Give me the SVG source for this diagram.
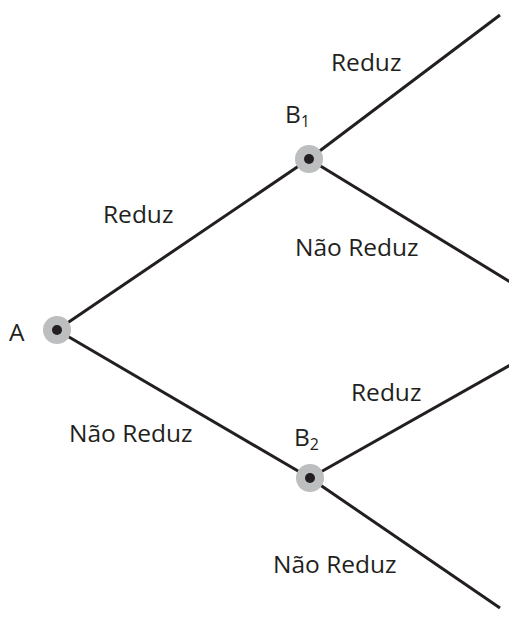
<svg xmlns="http://www.w3.org/2000/svg" width="509" height="624" viewBox="0 0 509 624">
  <style>
    .edge { stroke: #231f20; stroke-width: 3; fill: none; }
    .halo { fill: #bcbec0; }
    .dot { fill: #231f20; }
    text { font-family: "Open Sans", "Liberation Sans", sans-serif; font-size: 24.5px; fill: #231f20; }
    .sub { font-size: 16px; }
  </style>
  <rect width="509" height="624" fill="#ffffff"/>
  <g id="connectors">
    <line class="edge" x1="57" y1="330" x2="309" y2="159"/>
    <line class="edge" x1="57" y1="330" x2="310" y2="478"/>
    <line class="edge" x1="309" y1="159" x2="500" y2="15"/>
    <line class="edge" x1="309" y1="159" x2="512" y2="283"/>
    <line class="edge" x1="310" y1="478" x2="512" y2="364"/>
    <line class="edge" x1="310" y1="478" x2="500" y2="608"/>
  </g>
  <g id="edge-labels">
    <text x="331" y="71">Reduz</text>
    <text x="103" y="223">Reduz</text>
    <text x="295" y="256">Não Reduz</text>
    <text x="69" y="442">Não Reduz</text>
    <text x="351" y="401">Reduz</text>
    <text x="273" y="573">Não Reduz</text>
  </g>
  <g id="node-A">
    <circle class="halo" cx="57" cy="330" r="14"/>
    <circle class="dot" cx="57" cy="330" r="5"/>
    <text x="9" y="341">A</text>
  </g>
  <g id="node-B1">
    <circle class="halo" cx="309" cy="159" r="14"/>
    <circle class="dot" cx="309" cy="159" r="5"/>
    <text x="285" y="123">B<tspan class="sub" dy="4">1</tspan></text>
  </g>
  <g id="node-B2">
    <circle class="halo" cx="310" cy="478" r="14"/>
    <circle class="dot" cx="310" cy="478" r="5"/>
    <text x="294" y="446">B<tspan class="sub" dy="4">2</tspan></text>
  </g>
</svg>
